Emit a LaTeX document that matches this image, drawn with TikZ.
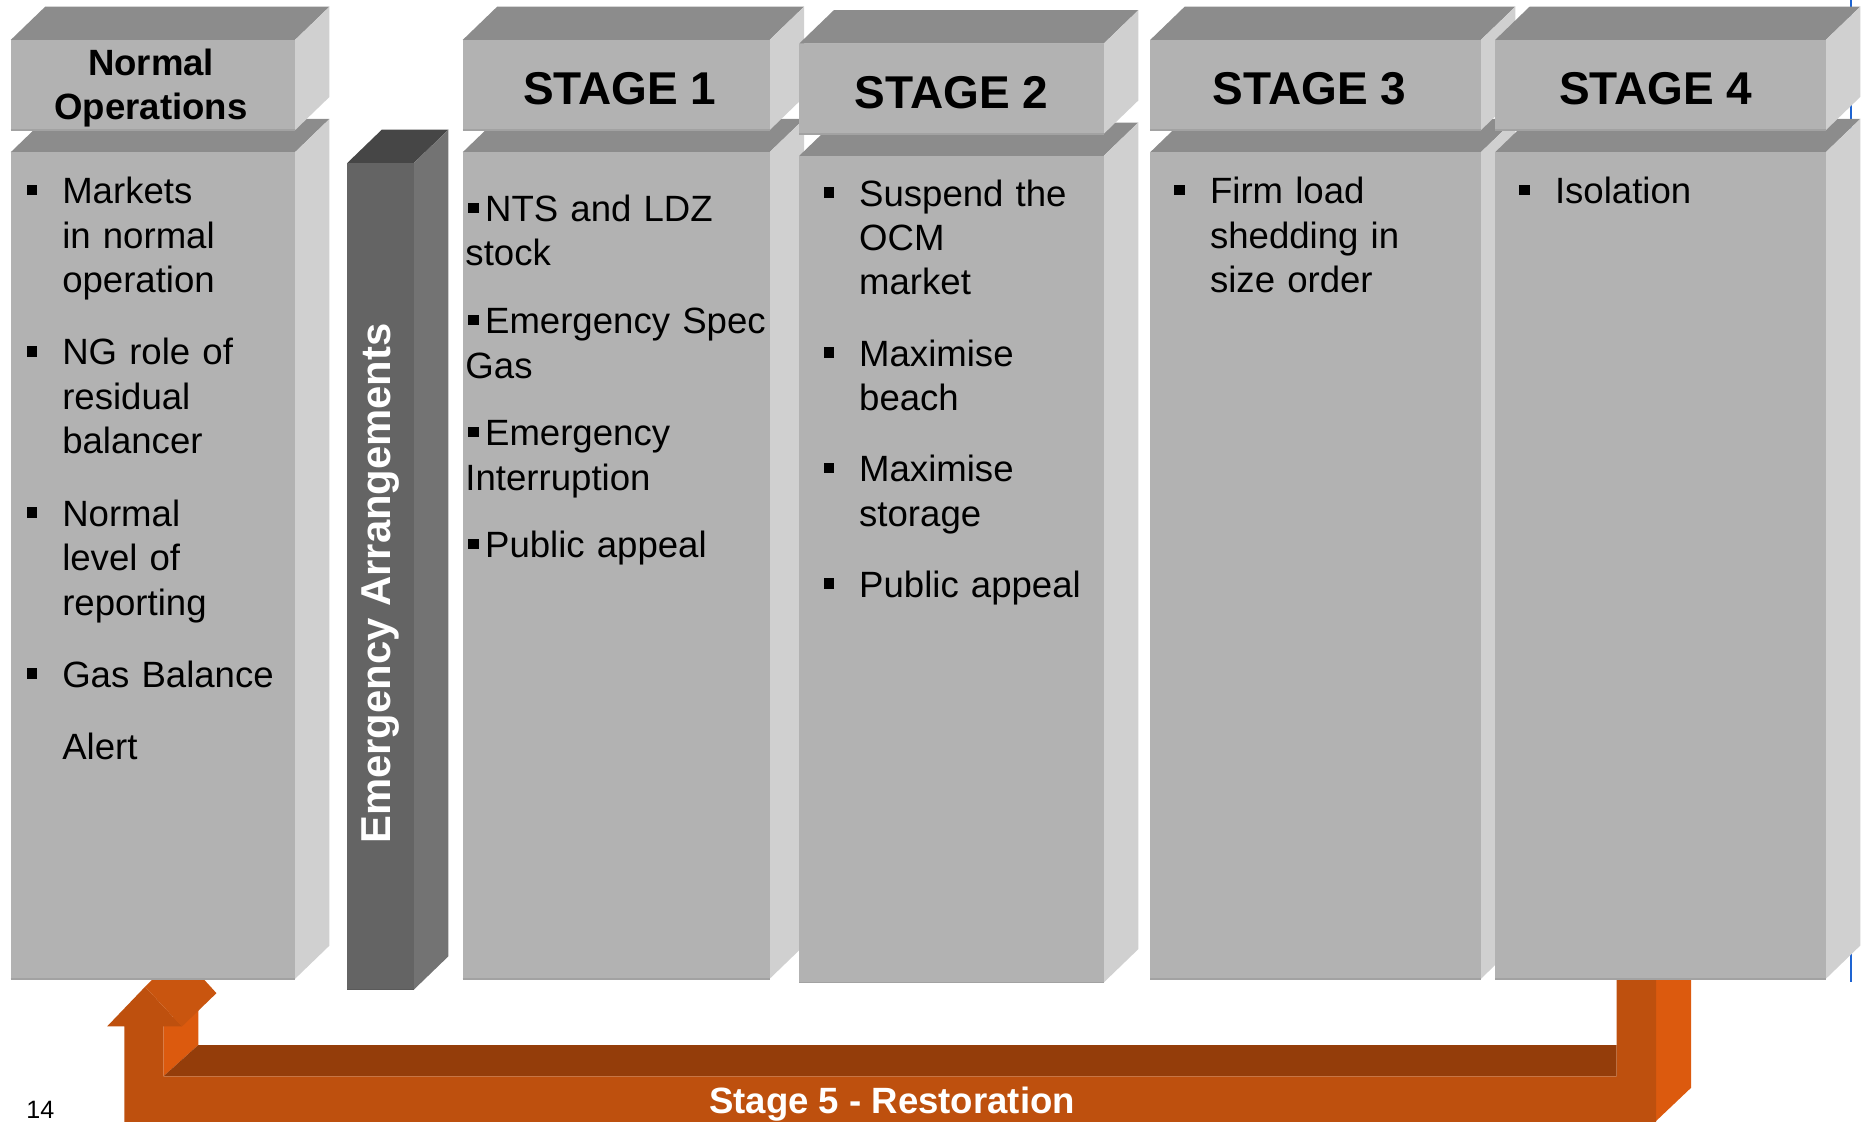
\documentclass[tikz,border=0pt]{standalone}
\usepackage{fontspec}
\setmainfont{Liberation Sans}
\usetikzlibrary{positioning}
\definecolor{mygrey}{RGB}{178,178,178}
\definecolor{mygreytop}{RGB}{140,140,140}
\definecolor{mygreyside}{RGB}{208,208,208}
\definecolor{mygreyedge}{RGB}{162,162,162}
\definecolor{mydark}{RGB}{100,100,100}
\definecolor{mydarktop}{RGB}{70,70,70}
\definecolor{mydarkside}{RGB}{115,115,115}
\definecolor{mydarkedge}{RGB}{90,90,90}
\definecolor{myorange}{RGB}{190,80,14}
\definecolor{myorangetop}{RGB}{148,61,10}
\definecolor{myorangeside}{RGB}{220,90,14}
\definecolor{myorangehead}{RGB}{201,85,15}
\definecolor{myblue}{RGB}{30,100,210}

\newcommand\sqb{\rule[1.4mm]{1.8mm}{1.8mm}}
\newcommand\bul{\leavevmode\llap{\sqb\hspace{4.2mm}}}
\newcommand\ibul{\leavevmode\hspace*{0.4mm}\sqb\hspace{1.1mm}}
% a box with its top and side faces
\newcommand\block[6]{%
	\fill[#6top] (#2,#3) -- ++(29,-28) -- ++({(#4)-(#2)},0) -- (#4,#3) -- cycle;
	\fill[#6side] (#4,#3) -- ++(29,-28) -- ++(0,{(#5)-(#3)}) -- (#4,#5) -- cycle;
	\fill[#6] (#2,#3) rectangle (#4,#5);
	\draw[#6edge, line width=0.3mm] (#2,#5) -- (#4,#5);
	\coordinate (#1) at ({((#2)+(#4))/2},{((#3)+(#5))/2});
}

\begin{document}
\begin{tikzpicture}[x=0.2mm, y=-0.2mm,
	every node/.style={inner sep=0pt},
	itemtext/.style={anchor=north west, text width=60mm, align=left,
		font=\fontsize{17.5}{21.26}\selectfont},
	stagehead/.style={anchor=base, font=\bfseries\fontsize{22}{26}\selectfont},
	normhead/.style={align=center, font=\bfseries\fontsize{17.5}{20.7}\selectfont},
	vertlabel/.style={rotate=90, anchor=base, text=white,
		font=\bfseries\fontsize{20}{24}\selectfont},
	restlabel/.style={anchor=base, text=white,
		font=\bfseries\fontsize{17.5}{21}\selectfont},
	]
	
	\useasboundingbox (0,0) rectangle (1568,942.5);
	\clip (0,0) rectangle (1568,942.5);
	
	% the blue marker behind stage 4
	\draw[myblue, line width=0.35mm] (1556,0) -- (1556,826);
	
	% the restoration arrow
	\fill[myorangeside] (137.3,863) -- (166.7,835) -- (166.7,878.6) -- (137.3,905) -- cycle;
	\fill[myorangeside] (1392.3,820) -- (1421.8,792) -- (1421.8,914.5) -- (1392.3,942.5) -- cycle;
	\fill[myorangetop] (137.3,905) -- (166.7,878.6) -- (1359.2,878.6) -- (1359.2,905) -- cycle;
	\fill[myorange] (90,863) -- (122,829.6) -- (153,863) -- (137.3,863) -- (137.3,905)
	-- (1359.2,905) -- (1359.2,820) -- (1392.3,820) -- (1392.3,950) -- (104.5,950)
	-- (104.5,863) -- cycle;
	\fill[myorangehead] (122,829.6) -- (153,863) -- (182,835) -- (151,801) -- cycle;
	
	% the columns
	\foreach \i/\xa/\xb/\dy in {0/9/248/0,1/389/647/0,2/672/928/3,3/967/1245/0,4/1257/1535/0}{
		\block{b\i}{\xa}{128+\dy}{\xb}{823+\dy}{mygrey}
		\block{h\i}{\xa}{33.6+\dy}{\xb}{109.5+\dy}{mygrey}
	}
	
	% the emergency bar
	\block{ea}{292}{137}{348}{832}{mydark}
	
	% the headers
	\node[normhead] (l0) at (127,74) {Normal\\Operations};
	\foreach \i/\x/\dy in {1/521/0,2/800/3,3/1101/0,4/1392/0}
	\node[stagehead] (l\i) at (\x,88+\dy) {STAGE \i};
	\node[vertlabel] (lea) at (328,490.5) {Emergency Arrangements};
	
	% the items
	\node[itemtext] (t0) at (52,144.75) {\noindent\strut\bul Markets\\in normal\\operation\\[4.7mm]%
		\bul NG role of\\residual\\balancer\\[4.7mm]\bul Normal\\level of\\reporting\\[4.7mm]%
		\bul Gas Balance\\[4.7mm]Alert};
	\node[itemtext] (t1) at (391,159.75) {\noindent\strut\ibul NTS and LDZ\\stock\\[3.9mm]%
		\ibul Emergency Spec\\Gas\\[3.9mm]\ibul Emergency\\Interruption\\[3.9mm]\ibul Public appeal};
	\node[itemtext] (t2) at (722,146.75) {\noindent\strut\bul Suspend the\\OCM\\market\\[4.5mm]%
		\bul Maximise\\beach\\[4.5mm]\bul Maximise\\storage\\[4.5mm]\bul Public appeal};
	\node[itemtext] (t3) at (1017,144.75) {\noindent\strut\bul Firm load\\shedding in\\size order};
	\node[itemtext] (t4) at (1307,144.75) {\noindent\strut\bul Isolation};
	
	% the restoration label and page number
	\node[restlabel] (l5) at (750,936) {Stage 5 - Restoration};
	\node[anchor=base, font=\fontsize{12}{14}\selectfont] (pg) at (34,940) {14};
\end{tikzpicture}
\end{document}
